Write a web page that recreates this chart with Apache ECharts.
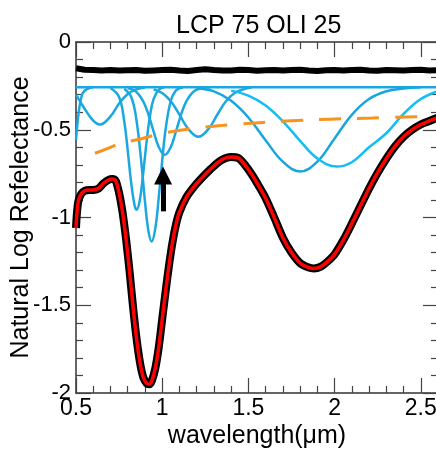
<!DOCTYPE html>
<html><head><meta charset="utf-8">
<script src="https://cdn.jsdelivr.net/npm/echarts@6/dist/echarts.min.js"></script>
<style>html,body{margin:0;padding:0;background:#fff}#c{width:436px;height:450px}</style>
</head><body><div id="c"></div>
<script>
// ---- data (wavelength in micrometres, natural log reflectance) ----
const titleText = 'LCP 75 OLI 25';
const xName = 'wavelength(\u03bcm)';
const yName = 'Natural Log Refelectance';

// measured spectrum / model fit (thick black with red)
const wlSpec = [0.50,0.505,0.513,0.525,0.54,0.56,0.60,0.63,0.66,0.69,0.71,0.73,0.75,0.77,0.79,0.81,0.83,0.85,0.87,0.89,0.91,0.925,0.94,0.96,0.98,1.00,1.02,1.04,1.06,1.08,1.10,1.14,1.18,1.22,1.28,1.34,1.40,1.44,1.48,1.52,1.56,1.60,1.65,1.70,1.75,1.80,1.85,1.88,1.92,1.96,2.00,2.05,2.10,2.15,2.20,2.25,2.30,2.35,2.40,2.45,2.50,2.55,2.60];
const lnSpec = [-1.06,-0.98,-0.91,-0.875,-0.855,-0.845,-0.843,-0.835,-0.805,-0.785,-0.78,-0.79,-0.86,-0.97,-1.12,-1.30,-1.50,-1.68,-1.82,-1.91,-1.945,-1.95,-1.93,-1.86,-1.74,-1.58,-1.42,-1.27,-1.14,-1.04,-0.97,-0.885,-0.83,-0.785,-0.725,-0.675,-0.655,-0.66,-0.70,-0.755,-0.82,-0.89,-1.00,-1.115,-1.20,-1.26,-1.285,-1.29,-1.28,-1.25,-1.21,-1.13,-1.035,-0.935,-0.835,-0.745,-0.665,-0.595,-0.54,-0.50,-0.47,-0.45,-0.43];

// residual-like noisy black line near top
const wlTop = [0.50,0.55,0.60,0.65,0.70,0.75,0.80,0.85,0.90,0.95,1.00,1.05,1.10,1.15,1.20,1.25,1.30,1.35,1.40,1.45,1.50,1.55,1.60,1.65,1.70,1.75,1.80,1.85,1.90,1.95,2.00,2.05,2.10,2.15,2.20,2.25,2.30,2.35,2.40,2.45,2.50,2.55,2.60];
const lnTop = [-0.15,-0.158,-0.16,-0.162,-0.16,-0.163,-0.161,-0.16,-0.164,-0.162,-0.16,-0.158,-0.162,-0.165,-0.16,-0.155,-0.16,-0.163,-0.162,-0.158,-0.16,-0.164,-0.161,-0.159,-0.163,-0.16,-0.158,-0.162,-0.165,-0.161,-0.16,-0.163,-0.16,-0.158,-0.162,-0.164,-0.16,-0.161,-0.163,-0.16,-0.158,-0.162,-0.16];

// flat baseline of the bands
const wlBase = [0.5, 2.6];
const lnBase = [-0.258, -0.258];

// individual absorption bands
const wlBandA = [0.50,0.51,0.52,0.53,0.54,0.56,0.58,0.60];
const lnBandA = [-0.56,-0.45,-0.37,-0.32,-0.29,-0.27,-0.262,-0.258];
const wlBandB = [0.50,0.55,0.60,0.64,0.70,0.75,0.80,0.85,0.90];
const lnBandB = [-0.30,-0.38,-0.448,-0.47,-0.424,-0.351,-0.296,-0.27,-0.26];
const wlBandC = [0.70,0.75,0.78,0.80,0.82,0.84,0.852,0.87,0.89,0.91,0.93,0.95,0.98,1.01];
const lnBandC = [-0.262,-0.313,-0.453,-0.617,-0.801,-0.932,-0.956,-0.902,-0.747,-0.563,-0.415,-0.325,-0.272,-0.258];
const wlBandD = [0.78,0.82,0.85,0.88,0.90,0.92,0.939,0.96,0.98,1.00,1.02,1.05,1.08,1.12];
const lnBandD = [-0.266,-0.312,-0.44,-0.697,-0.907,-1.076,-1.137,-1.063,-0.886,-0.677,-0.496,-0.335,-0.276,-0.258];
const wlBandE = [0.80,0.85,0.90,0.95,0.98,1.015,1.05,1.08,1.13,1.18,1.23,1.28];
const lnBandE = [-0.263,-0.284,-0.359,-0.509,-0.598,-0.643,-0.598,-0.509,-0.359,-0.284,-0.263,-0.258];
const wlBandF = [0.95,1.00,1.05,1.10,1.15,1.21,1.27,1.32,1.37,1.42,1.47,1.52];
const lnBandF = [-0.27,-0.291,-0.338,-0.413,-0.494,-0.54,-0.494,-0.413,-0.338,-0.291,-0.27,-0.258];
const wlBandG = [1.20,1.30,1.40,1.50,1.60,1.70,1.80,1.90,2.00,2.10,2.20,2.30,2.40,2.50];
const lnBandG = [-0.265,-0.281,-0.335,-0.43,-0.56,-0.682,-0.738,-0.682,-0.55,-0.415,-0.325,-0.281,-0.265,-0.258];
const wlBandH = [1.40,1.50,1.60,1.70,1.80,1.90,2.013,2.10,2.20,2.30,2.40,2.50,2.60];
const lnBandH = [-0.277,-0.306,-0.362,-0.452,-0.563,-0.663,-0.71,-0.685,-0.60,-0.52,-0.41,-0.325,-0.28];

// continuum (orange dashed)
const wlCont = [0.61,0.70,0.755,0.87,1.00,1.24,1.45,1.72,1.97,2.22,2.50];
const lnCont = [-0.634,-0.60,-0.577,-0.554,-0.52,-0.486,-0.468,-0.45,-0.44,-0.433,-0.425];

// arrow (x, y from, y to)
const arrowX = 1.005;
const arrowY = [-0.965, -0.76];

// axes
const xMin = 0.5, xMax = 2.6, xStep = 0.5;
const yMin = -2, yMax = 0, yStep = 0.5;

// ---- chart ----
const pair = (xs, ys) => xs.map((x, i) => [x, ys[i]]);
const FONT = "'Liberation Sans', Arial, sans-serif";
const BLUE = '#1BA8E0', LBLUE = '#12BEF2';

function line(name, xs, ys, color, width, extra) {
  return Object.assign({
    name, type: 'line', data: pair(xs, ys), showSymbol: false, symbol: 'none',
    smooth: 0.4, lineStyle: { color, width }, silent: true, animation: false
  }, extra || {});
}

const axisCommon = {
  type: 'value',
  axisLine: { show: true, onZero: false, lineStyle: { color: '#333', width: 1.5 } },
  axisTick: { show: true, inside: true, length: 15, lineStyle: { color: '#444', width: 1.2 } },
  minorTick: { show: true, splitNumber: 5, length: 7, lineStyle: { color: '#444', width: 1.2 } },
  splitLine: { show: false }
};

const chart = echarts.init(document.getElementById('c'), null, { renderer: 'canvas' });
chart.setOption({
  animation: false,
  backgroundColor: '#fff',
  title: { text: titleText, left: 171, top: 9,
    textStyle: { fontFamily: FONT, fontSize: 25, fontWeight: 'normal', color: '#000' } },
  grid: { left: 76, right: -2, top: 42, bottom: 57, containLabel: false, outerBoundsMode: 'none' },
  xAxis: [
    Object.assign({}, axisCommon, {
      position: 'bottom', min: xMin, max: xMax, interval: xStep,
      name: xName, nameLocation: 'middle', nameGap: 31, nameMoveOverlap: false,
      nameTextStyle: { fontFamily: FONT, fontSize: 25, color: '#000' },
      axisLabel: { show: true, margin: 4, fontFamily: FONT, fontSize: 23, color: '#000', showMaxLabel: false,
        formatter: v => String(v) }
    }),
    Object.assign({}, axisCommon, {
      position: 'top', min: xMin, max: xMax, interval: xStep, axisLabel: { show: false }
    })
  ],
  yAxis: [
    Object.assign({}, axisCommon, {
      position: 'left', min: yMin, max: yMax, interval: yStep,
      name: yName, nameLocation: 'middle', nameGap: 42, nameRotate: 90, nameMoveOverlap: false,
      nameTextStyle: { fontFamily: FONT, fontSize: 25, color: '#000' },
      axisLabel: { show: true, margin: 5, fontFamily: FONT, fontSize: 22, color: '#000',
        formatter: v => String(v) }
    }),
    Object.assign({}, axisCommon, {
      position: 'right', min: yMin, max: yMax, interval: yStep, axisLabel: { show: false }
    })
  ],
  series: [
    line('baseline', wlBase, lnBase, BLUE, 2.5, { smooth: false }),
    line('bandA', wlBandA, lnBandA, BLUE, 2.5),
    line('bandB', wlBandB, lnBandB, BLUE, 2.5),
    line('bandC', wlBandC, lnBandC, BLUE, 2.5),
    line('bandD', wlBandD, lnBandD, BLUE, 2.5),
    line('bandE', wlBandE, lnBandE, BLUE, 2.5),
    line('bandF', wlBandF, lnBandF, BLUE, 2.5),
    line('bandG', wlBandG, lnBandG, '#1AA5DF', 2.5),
    line('bandH', wlBandH, lnBandH, LBLUE, 2.5),
    line('continuum', wlCont, lnCont, '#F7931E', 3, { lineStyle: { color: '#F7931E', width: 3, type: [22, 16] } }),
    line('residual', wlTop, lnTop, '#000', 6, { smooth: false }),
    line('measured', wlSpec, lnSpec, '#000', 8, { smooth: 0.3 }),
    line('model', wlSpec, lnSpec, '#FF0000', 3.5, { smooth: 0.3,
      markLine: { silent: true, animation: false, symbol: ['none', 'triangle'], symbolSize: [18, 18],
        label: { show: false }, lineStyle: { color: '#000', width: 5, type: 'solid' },
        data: [[{ coord: [arrowX, arrowY[0]] }, { coord: [arrowX, arrowY[1]] }]] } })
  ]
});
</script></body></html>
